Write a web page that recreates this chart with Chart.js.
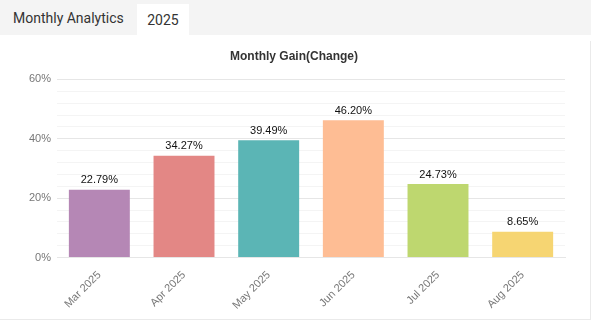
<!DOCTYPE html>
<html>
<head>
<meta charset="utf-8">
<script src="https://cdn.jsdelivr.net/npm/chart.js@4"></script>
<style>
  body { margin: 0; background: #fff; font-family: Roboto, Arial, sans-serif; }
  .header { height: 35px; background: #f4f4f4; position: relative; }
  .header .title { position: absolute; left: 13px; top: 10px; font-size: 14px; color: #333; }
  .header .tab { position: absolute; left: 137px; top: 4px; width: 52px; height: 31px; background: #fff;
                 font-size: 14px; color: #333; text-align: center; line-height: 32px; }
  .box { position: absolute; left: 0; top: 41px; width: 590px; height: 278px;
         border-right: 1px solid #eaeaea; border-bottom: 1px solid #eaeaea; }
</style>
</head>
<body>
<div class="header">
  <span class="title">Monthly Analytics</span>
  <span class="tab">2025</span>
</div>
<div class="box"><canvas id="monthlyGainChart" width="590" height="278"></canvas></div>
<script>
const months = ['Mar 2025', 'Apr 2025', 'May 2025', 'Jun 2025', 'Jul 2025', 'Aug 2025'];
const gains = [22.79, 34.27, 39.49, 46.20, 24.73, 8.65];
const barColors = ['#b587b5', '#e38785', '#5bb5b5', '#febd94', '#bed76f', '#f6d572'];

// draws the value above each bar
const valueLabels = {
  id: 'valueLabels',
  afterDatasetsDraw(chart) {
    const ctx = chart.ctx;
    ctx.save();
    ctx.font = '11px Arial, "Liberation Sans"';
    ctx.fillStyle = '#111';
    ctx.textAlign = 'center';
    ctx.textBaseline = 'bottom';
    chart.getDatasetMeta(0).data.forEach((bar, i) => {
      ctx.fillText(gains[i].toFixed(2) + '%', bar.x, bar.y - 4);
    });
    ctx.restore();
  }
};

const ctx = document.getElementById('monthlyGainChart').getContext('2d');
const monthlyGainChart = new Chart(ctx, {
  type: 'bar',
  data: {
    labels: months,
    datasets: [{
      label: 'Monthly Gain',
      data: gains,
      backgroundColor: barColors,
      borderWidth: 0
    }]
  },
  options: {
    responsive: false,
    animation: false,
    layout: { padding: { left: 23, right: 25, top: 0, bottom: 4 } },
    plugins: {
      legend: { display: false },
      tooltip: { enabled: false },
      title: {
        display: true,
        text: 'Monthly Gain(Change)',
        color: '#333',
        font: { family: 'Arial, "Liberation Sans"', size: 12, weight: 'bold' },
        padding: { top: 8, bottom: 16 }
      }
    },
    scales: {
      y: {
        min: 0,
        max: 60,
        ticks: {
          stepSize: 4,
          autoSkip: false,
          color: '#777',
          font: { family: 'Arial, "Liberation Sans"', size: 11 },
          padding: 6,
          callback: v => (v % 20 === 0 ? v + '%' : '')
        },
        grid: {
          drawTicks: false,
          color: c => (c.tick.value % 20 === 0 ? '#e6e6e6' : '#f4f4f4')
        },
        border: { display: false }
      },
      x: {
        ticks: {
          color: '#777',
          font: { family: 'Arial, "Liberation Sans"', size: 11 },
          maxRotation: 45,
          minRotation: 45,
          padding: 3
        },
        grid: { display: false },
        border: { color: '#e6e6e6' }
      }
    }
  },
  plugins: [valueLabels]
});
</script>
</body>
</html>
